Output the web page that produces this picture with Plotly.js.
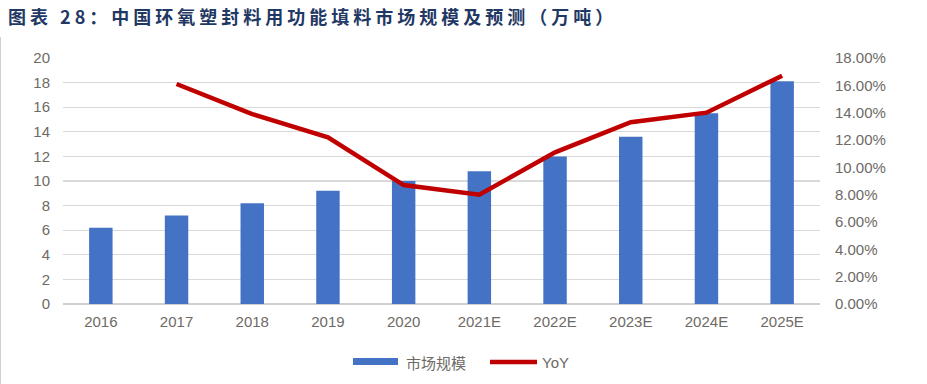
<!DOCTYPE html>
<html>
<head>
<meta charset="utf-8">
<script src="https://cdn.plot.ly/plotly-3.0.1.min.js"></script>
<style>
html,body{margin:0;padding:0;background:#fff;}
#chart{width:927px;height:384px;}
#chart .gtitle{letter-spacing:4px;}
</style>
</head>
<body>
<div id="chart"></div>
<script>
var categories = ["2016","2017","2018","2019","2020","2021E","2022E","2023E","2024E","2025E"];
var marketSize = [6.2, 7.2, 8.2, 9.2, 10.0, 10.8, 12.0, 13.6, 15.5, 18.1];
var yoy = [null, 0.161, 0.139, 0.122, 0.087, 0.080, 0.111, 0.133, 0.140, 0.167];
var leftTicks = [0,2,4,6,8,10,12,14,16,18,20];
var rightTicks = [0,0.02,0.04,0.06,0.08,0.10,0.12,0.14,0.16,0.18];
var seriesNames = ["市场规模", "YoY"];
var titleText = "图表 28：中国环氧塑封料用功能填料市场规模及预测（万吨）";

var tickFont = {family: "Liberation Sans, Arial, sans-serif", size: 15, color: "#6e6a66"};

var traces = [
  {
    type: "bar", x: categories, y: marketSize, name: seriesNames[0],
    marker: {color: "#4472C4"}, yaxis: "y", showlegend: false,
    hoverinfo: "x+y"
  },
  {
    type: "scatter", mode: "lines", x: categories, y: yoy, name: seriesNames[1],
    line: {color: "#C00000", width: 4.5}, yaxis: "y2", showlegend: false,
    connectgaps: false
  }
];

var layout = {
  width: 927, height: 384,
  margin: {l: 63, r: 107, t: 58, b: 80},
  paper_bgcolor: "#fff", plot_bgcolor: "#fff",
  bargap: 0.69,
  xaxis: {
    type: "category", tickfont: tickFont, showgrid: false, zeroline: false,
    showline: false, ticks: "", ticklabelstandoff: 7, fixedrange: true
  },
  yaxis: {
    range: [0, 20], tickvals: leftTicks, tickfont: tickFont,
    showgrid: true, gridcolor: "#d9d9d9", gridwidth: 1.3,
    zeroline: true, zerolinecolor: "#d0d0d0", zerolinewidth: 1.5,
    showline: false, ticks: "", ticklabelstandoff: 12, fixedrange: true
  },
  yaxis2: {
    overlaying: "y", side: "right", range: [0, 0.18], tickvals: rightTicks,
    tickformat: ".2%", tickfont: tickFont, showgrid: false, zeroline: false,
    showline: false, ticks: "", ticklabelstandoff: 14, fixedrange: true
  },
  title: {
    text: "<b>" + titleText + "</b>",
    font: {family: "Noto Sans CJK SC, sans-serif", size: 18, color: "#1F3864"},
    x: 0, xref: "container", xanchor: "left", y: 1 - 18/384, yref: "container", yanchor: "middle",
    pad: {l: 8}, automargin: false
  },
  shapes: [
    {type: "line", xref: "paper", yref: "paper", x0: -63/757, x1: -63/757,
     y0: (384-80-37)/246 , y1: -80/246, line: {color: "#d0d0d0", width: 2}},
    {type: "rect", xref: "paper", yref: "paper",
     x0: (353-63)/757, x1: (398-63)/757, y0: (304-365)/246, y1: (304-358)/246,
     fillcolor: "#4472C4", line: {width: 0}},
    {type: "line", xref: "paper", yref: "paper",
     x0: (490-63)/757, x1: (537-63)/757, y0: (304-362)/246, y1: (304-362)/246,
     line: {color: "#C00000", width: 4.5}}
  ],
  annotations: [
    {xref: "paper", yref: "paper", x: (404-63)/757, y: (304-362)/246,
     xanchor: "left", yanchor: "middle", showarrow: false, text: seriesNames[0],
     font: {family: "Noto Sans CJK SC, sans-serif", size: 15, color: "#6e6a66"}},
    {xref: "paper", yref: "paper", x: (540-63)/757, y: (304-362)/246,
     xanchor: "left", yanchor: "middle", showarrow: false, text: seriesNames[1],
     font: {family: "Liberation Sans, Arial, sans-serif", size: 15, color: "#6e6a66"}}
  ]
};

Plotly.newPlot("chart", traces, layout, {displayModeBar: false, staticPlot: true});
</script>
</body>
</html>
